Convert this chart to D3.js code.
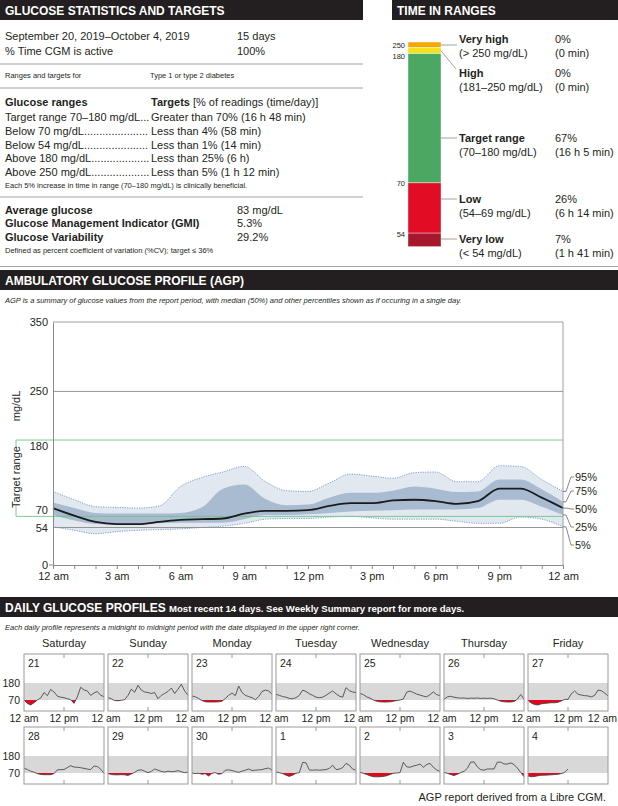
<!DOCTYPE html>
<html>
<head>
<meta charset="utf-8">
<script src="https://d3js.org/d3.v7.min.js"></script>
<style>
body { margin: 0; background: #fff; }
svg text { font-family: "Liberation Sans", Arial, sans-serif; fill: #231f20; }
svg text.w { fill: #fff; }
</style>
</head>
<body>
<svg id="chart" width="618" height="806"></svg>
<script>
// ---- glucose statistics
const periodLabels = ['September 20, 2019–October 4, 2019', '% Time CGM is active']
const periodValues = ['15 days', '100%']
const rangeLabels = ['Target range 70–180 mg/dL', 'Below 70 mg/dL', 'Below 54 mg/dL', 'Above 180 mg/dL', 'Above 250 mg/dL']
const rangeTargets = ['Greater than 70% (16 h 48 min)', 'Less than 4% (58 min)', 'Less than 1% (14 min)', 'Less than 25% (6 h)', 'Less than 5% (1 h 12 min)']
const summaryLabels = ['Average glucose', 'Glucose Management Indicator (GMI)', 'Glucose Variability']
const summaryValues = ['83 mg/dL', '5.3%', '29.2%']

// ---- time in ranges
const tirNames = ['Very high', 'High', 'Target range', 'Low', 'Very low']
const tirRanges = ['(> 250 mg/dL)', '(181–250 mg/dL)', '(70–180 mg/dL)', '(54–69 mg/dL)', '(< 54 mg/dL)']
const tirPercent = [0, 0, 67, 26, 7]
const tirTimes = ['(0 min)', '(0 min)', '(16 h 5 min)', '(6 h 14 min)', '(1 h 41 min)']
const tirBounds = ['250', '180', '70', '54']
const tirColors = ['#f5a900', '#f3e21c', '#4ba862', '#e20c25', '#a6172b']

// ---- AGP percentiles (mg/dL by hour of day)
const agpHours = [0, 1, 2, 3, 4, 5, 6, 7, 8, 9, 10, 11, 12, 13, 14, 15, 16, 17, 18, 19, 20, 21, 22, 23, 24]
const p95 = [106, 94, 84, 83, 82, 85, 113, 126, 134, 142, 120, 107, 106, 118, 131, 128, 125, 133, 134, 120, 120, 143, 142, 123, 106]
const p75 = [90, 82, 75, 74, 74, 74, 75, 83, 110, 116, 95, 86, 87, 97, 104, 104, 107, 113, 110, 105, 106, 123, 123, 109, 91]
const p50 = [82, 71, 62, 59, 59, 62, 65, 66, 67, 74, 78, 78, 79, 85, 89, 89, 93, 94, 92, 88, 92, 110, 110, 97, 82]
const p25 = [72, 64, 59, 58, 58, 60, 61, 61, 61, 66, 72, 72, 73, 75, 77, 78, 79, 80, 80, 80, 82, 94, 94, 84, 72]
const p5 = [55, 50, 45, 48, 50, 51, 52, 54, 56, 60, 66, 67, 67, 69, 70, 68, 66, 66, 66, 63, 60, 60, 69, 66, 55]
const agpTicks = [0, 54, 70, 180, 250, 350]
const hourLabels = ['12 am', '3 am', '6 am', '9 am', '12 pm', '3 pm', '6 pm', '9 pm', '12 am']
const pctLabels = ['95%', '75%', '50%', '25%', '5%']

// ---- daily profiles (mg/dL by hour)
const weekDays = ['Saturday', 'Sunday', 'Monday', 'Tuesday', 'Wednesday', 'Thursday', 'Friday']
const dayNumbers = ['21', '22', '23', '24', '25', '26', '27', '28', '29', '30', '1', '2', '3', '4']
const sep21 = [70, 48, 38, 52, 70, 82, 118, 98, 138, 122, 95, 88, 85, 78, 72, 48, 90, 152, 135, 128, 100, 115, 125, 100, 92]
const sep22 = [85, 78, 66, 65, 68, 72, 100, 140, 120, 165, 134, 122, 118, 112, 118, 78, 100, 112, 125, 147, 112, 140, 172, 128, 100]
const sep23 = [96, 90, 80, 66, 58, 57, 57, 57, 58, 62, 80, 100, 115, 98, 160, 118, 100, 92, 85, 72, 92, 125, 134, 128, 108]
const sep24 = [107, 100, 92, 88, 80, 78, 85, 100, 134, 125, 110, 100, 88, 85, 88, 100, 115, 128, 110, 95, 88, 150, 130, 122, 118]
const sep25 = [112, 105, 90, 82, 70, 62, 58, 57, 57, 58, 62, 66, 70, 76, 120, 128, 118, 108, 102, 95, 90, 105, 122, 105, 98]
const sep26 = [74, 90, 94, 88, 84, 82, 83, 80, 82, 81, 83, 80, 82, 80, 82, 78, 70, 62, 58, 57, 57, 60, 75, 105, 75]
const sep27 = [66, 50, 40, 38, 45, 48, 50, 52, 52, 55, 64, 74, 74, 110, 128, 107, 102, 98, 96, 90, 100, 134, 130, 115, 96]
const sep28 = [102, 92, 82, 75, 66, 60, 59, 59, 59, 66, 90, 92, 92, 105, 117, 108, 107, 104, 100, 95, 92, 115, 112, 95, 68]
const sep29 = [66, 60, 58, 58, 59, 58, 54, 64, 74, 88, 90, 82, 72, 80, 96, 88, 80, 76, 82, 78, 80, 85, 78, 72, 75]
const sep30 = [70, 66, 68, 62, 65, 50, 68, 72, 62, 66, 88, 90, 86, 80, 74, 82, 88, 96, 86, 88, 90, 92, 98, 102, 88]
const oct01 = [76, 72, 66, 56, 48, 56, 68, 72, 139, 135, 90, 88, 90, 88, 90, 92, 100, 120, 92, 95, 105, 132, 120, 95, 88]
const oct02 = [74, 68, 60, 52, 46, 45, 46, 48, 52, 60, 68, 70, 72, 139, 110, 107, 115, 120, 128, 107, 125, 132, 107, 90, 80]
const oct03 = [74, 68, 60, 53, 62, 72, 81, 100, 140, 142, 110, 92, 88, 96, 96, 96, 140, 140, 128, 128, 135, 125, 102, 74, 46]
const oct04 = [50, 46, 48, 52, 55, 56, 57, 58, 60, 62, 66, 74, 96]
const dailyValues = [sep21, sep22, sep23, sep24, sep25, sep26, sep27, sep28, sep29, sep30, oct01, oct02, oct03, oct04]

const dark = '#231f20'
const svg = d3.select('#chart')

// section headers
function header(x, y, w, title) {
  svg.append('rect').attr('x', x).attr('y', y).attr('width', w).attr('height', 20).attr('fill', dark)
  return svg.append('text').attr('class', 'w').attr('x', x + 5).attr('y', y + 15)
    .attr('font-size', 12).attr('font-weight', 'bold').text(title)
}
function rule(x1, x2, y) {
  svg.append('line').attr('x1', x1).attr('x2', x2).attr('y1', y).attr('y2', y).attr('stroke', '#8a8a8a').attr('stroke-width', 0.8)
}

// ===== GLUCOSE STATISTICS AND TARGETS
header(0, 0, 363, 'GLUCOSE STATISTICS AND TARGETS')
const stats = svg.append('g').attr('font-size', 11)
periodLabels.forEach((t, i) => {
  stats.append('text').attr('x', 5).attr('y', 40 + i * 15).text(t)
  stats.append('text').attr('x', 237).attr('y', 40 + i * 15).text(periodValues[i])
})
rule(0, 363, 64)
stats.append('text').attr('x', 5).attr('y', 78).attr('font-size', 7.5).text('Ranges and targets for')
stats.append('text').attr('x', 150).attr('y', 78).attr('font-size', 7.5).text('Type 1 or type 2 diabetes')
rule(0, 363, 88)
stats.append('text').attr('x', 5).attr('y', 106).attr('font-weight', 'bold').text('Glucose ranges')
const tg = stats.append('text').attr('x', 151).attr('y', 106)
tg.append('tspan').attr('font-weight', 'bold').text('Targets')
tg.append('tspan').text(' [% of readings (time/day)]')
rangeLabels.forEach((lab, i) => {
  const y = 121 + i * 13.8
  const t = stats.append('text').attr('x', 5).attr('y', y)
  let s = lab + '...'
  t.text(s)
  while (t.node().getComputedTextLength() < 143) { s += '.'; t.text(s) }
  stats.append('text').attr('x', 151).attr('y', y).text(rangeTargets[i])
})
stats.append('text').attr('x', 5).attr('y', 188).attr('font-size', 7.5)
  .text('Each 5% increase in time in range (70–180 mg/dL) is clinically beneficial.')
rule(0, 363, 197)
summaryLabels.forEach((lab, i) => {
  const y = 214 + i * 13.3
  stats.append('text').attr('x', 5).attr('y', y).attr('font-weight', 'bold').text(lab)
  stats.append('text').attr('x', 237).attr('y', y).text(summaryValues[i])
})
stats.append('text').attr('x', 5).attr('y', 253).attr('font-size', 7.5)
  .text('Defined as percent coefficient of variation (%CV); target ≤ 36%')

// ===== TIME IN RANGES
header(392, 0, 226, 'TIME IN RANGES')
const barX = 408, barW = 33, barTop = 42
const hScale = d3.scaleLinear().domain([0, 100]).range([0, 193])
let acc = barTop
const segs = tirPercent.map((p, i) => {
  const h = Math.max(5.8, hScale(p))
  const s = { y: acc, h: h, color: tirColors[i] }
  acc += h
  return s
})
svg.append('g').selectAll('rect').data(segs).enter().append('rect')
  .attr('x', barX).attr('y', d => d.y).attr('width', barW).attr('height', d => d.h)
  .attr('fill', d => d.color).attr('stroke', '#fff').attr('stroke-width', 0.4)
const boundOffset = [-2, 3, 1, 1]
tirBounds.forEach((b, i) => {
  svg.append('text').attr('x', 405).attr('y', segs[i + 1].y + boundOffset[i] + 2.5)
    .attr('text-anchor', 'end').attr('font-size', 7.5).attr('fill', '#444').text(b)
})
const tirLabelY = [39, 73, 138, 199, 239]
const tirLines = svg.append('g').attr('stroke', '#8a8a8a').attr('stroke-width', 0.8).attr('fill', 'none')
tirLines.append('path').attr('d', `M${barX + barW},${segs[0].y + 3}H457`)
tirLines.append('path').attr('d', `M${barX + barW},${segs[1].y + 3}L456,${tirLabelY[1] - 4}`)
;[2, 3, 4].forEach(i => tirLines.append('path').attr('d', `M${barX + barW},${tirLabelY[i]}H457`))
tirNames.forEach((n, i) => {
  const g = svg.append('g').attr('font-size', 11)
  g.append('text').attr('x', 459).attr('y', tirLabelY[i] + 4).attr('font-weight', 'bold').text(n)
  g.append('text').attr('x', 459).attr('y', tirLabelY[i] + 18).text(tirRanges[i])
  g.append('text').attr('x', 555).attr('y', tirLabelY[i] + 4).text(tirPercent[i] + '%')
  g.append('text').attr('x', 555).attr('y', tirLabelY[i] + 18).text(tirTimes[i])
})
rule(0, 618, 266.5)

// ===== AGP
header(0, 270, 618, 'AMBULATORY GLUCOSE PROFILE (AGP)')
svg.append('text').attr('x', 5).attr('y', 303).attr('font-size', 7.5).attr('font-style', 'italic')
  .text('AGP is a summary of glucose values from the report period, with median (50%) and other percentiles shown as if occuring in a single day.')

const x = d3.scaleLinear().domain([0, 24]).range([53, 563])
const y = d3.scaleLinear().domain([0, 350]).range([565, 322])
const rows = agpHours.map((h, i) => ({ h, p5: p5[i], p25: p25[i], p50: p50[i], p75: p75[i], p95: p95[i] }))
const curve = d3.curveMonotoneX
const agp = svg.append('g')

agp.append('path').datum(rows).attr('fill', '#e2e8f0')
  .attr('d', d3.area().curve(curve).x(d => x(d.h)).y0(d => y(d.p5)).y1(d => y(d.p95)))
agp.append('path').datum(rows).attr('fill', '#a9bbd1')
  .attr('d', d3.area().curve(curve).x(d => x(d.h)).y0(d => y(d.p25)).y1(d => y(d.p75)))
;['p5', 'p95'].forEach(k => {
  agp.append('path').datum(rows).attr('fill', 'none').attr('stroke', '#6a8cc2').attr('stroke-width', 0.8)
    .attr('stroke-dasharray', '1.2,1.2')
    .attr('d', d3.line().curve(curve).x(d => x(d.h)).y(d => y(d[k])))
})
// reference lines
;[250, 54].forEach(v => agp.append('line').attr('x1', x(0)).attr('x2', x(24)).attr('y1', y(v)).attr('y2', y(v))
  .attr('stroke', '#8a8a8a').attr('stroke-width', 0.9))
;[180, 70].forEach(v => agp.append('line').attr('x1', 16).attr('x2', x(24)).attr('y1', y(v)).attr('y2', y(v))
  .attr('stroke', '#6cc486').attr('stroke-width', 0.9))
agp.append('line').attr('x1', 16).attr('x2', 16).attr('y1', y(180)).attr('y2', y(70)).attr('stroke', '#6cc486').attr('stroke-width', 0.9)
agp.append('rect').attr('x', 9).attr('y', 447).attr('width', 14).attr('height', 58).attr('fill', '#fff')
agp.append('text').attr('transform', 'translate(20,477) rotate(-90)').attr('text-anchor', 'middle')
  .attr('font-size', 11).text('Target range')
agp.append('text').attr('transform', 'translate(20,406) rotate(-90)').attr('text-anchor', 'middle')
  .attr('font-size', 11).text('mg/dL')

agp.append('path').datum(rows).attr('fill', 'none').attr('stroke', '#1b1b1b').attr('stroke-width', 1.8)
  .attr('d', d3.line().curve(curve).x(d => x(d.h)).y(d => y(d.p50)))

// frame
agp.append('path').attr('d', `M${x(0)},${y(350)}H${x(24)}V${y(0)}`).attr('fill', 'none')
  .attr('stroke', '#a0a0a0').attr('stroke-width', 1)

const xAxis = d3.axisBottom(x).tickValues(agpHours).tickSize(4).tickPadding(3)
  .tickFormat(h => h % 3 === 0 ? hourLabels[h / 3] : '')
const gx = agp.append('g').attr('transform', `translate(0,${y(0)})`).call(xAxis)
gx.selectAll('text').attr('font-size', 11).attr('font-family', null)
gx.selectAll('line,path').attr('stroke', '#8a8a8a')

const yLabelShift = { 0: 0, 54: 0, 70: -6, 180: 6, 250: 0, 350: 0 }
const yAxis = d3.axisLeft(y).tickValues(agpTicks).tickSize(0).tickPadding(5)
const gy = agp.append('g').attr('transform', `translate(${x(0)},0)`).call(yAxis)
gy.selectAll('text').attr('font-size', 11).attr('font-family', null).attr('dy', d => (yLabelShift[d] + 3.5) + 'px')
gy.select('.domain').attr('stroke', '#8a8a8a')
gy.append('line').attr('x1', -4).attr('x2', 0).attr('y1', y(0)).attr('y2', y(0)).attr('stroke', '#8a8a8a')

// percentile labels on the right
const pctKeys = ['p95', 'p75', 'p50', 'p25', 'p5']
const pctLabelY = [477, 491, 509, 527, 545]
const last = rows[rows.length - 1]
pctKeys.forEach((k, i) => {
  const yv = y(last[k]), xe = x(24)
  agp.append('path').attr('fill', 'none').attr('stroke', '#555').attr('stroke-width', 0.7)
    .attr('d', `M${xe},${yv}H${xe + 3}L${xe + 8},${pctLabelY[i]}H${xe + 11}`)
  agp.append('text').attr('x', xe + 12).attr('y', pctLabelY[i] + 4).attr('font-size', 11).text(pctLabels[i])
})

// ===== DAILY GLUCOSE PROFILES
header(0, 597, 618, 'DAILY GLUCOSE PROFILES')
svg.append('text').attr('class', 'w').attr('x', 169).attr('y', 612).attr('font-size', 9.6).attr('font-weight', 'bold')
  .text('Most recent 14 days. See Weekly Summary report for more days.')
svg.append('text').attr('x', 5).attr('y', 630).attr('font-size', 7.5).attr('font-style', 'italic')
  .text('Each daily profile represents a midnight to midnight period with the date displayed in the upper right corner.')

const panelW = 80, panelH = 57, colStep = 84, rowStep = 73, left0 = 24, top0 = 654
weekDays.forEach((d, c) => {
  svg.append('text').attr('x', left0 + c * colStep + panelW / 2).attr('y', 647).attr('text-anchor', 'middle')
    .attr('font-size', 11).text(d)
})
const defs = svg.append('defs')
dailyValues.forEach((vals, i) => {
  const col = i % 7, row = Math.floor(i / 7)
  const x0 = left0 + col * colStep, y0 = top0 + row * rowStep
  const dx = d3.scaleLinear().domain([0, 24]).range([x0, x0 + panelW])
  const dy = d3.scaleLinear().domain([0, 350]).range([y0 + 56.8, y0 + 2.7])
  const g = svg.append('g')
  g.append('rect').attr('x', x0).attr('y', dy(180)).attr('width', panelW).attr('height', dy(70) - dy(180)).attr('fill', '#d8d8d8')
  const pts = vals.map((v, h) => [h, v])
  defs.append('clipPath').attr('id', 'low' + i).append('rect')
    .attr('x', x0).attr('y', dy(70)).attr('width', panelW).attr('height', y0 + panelH - dy(70))
  g.append('path').datum(pts).attr('clip-path', `url(#low${i})`).attr('fill', '#e3061f')
    .attr('d', d3.area().x(d => dx(d[0])).y0(dy(70)).y1(d => dy(d[1])))
  g.append('path').datum(pts).attr('fill', 'none').attr('stroke', '#3a3a3a').attr('stroke-width', 0.8)
    .attr('d', d3.line().x(d => dx(d[0])).y(d => dy(d[1])))
  g.append('rect').attr('x', x0).attr('y', y0).attr('width', panelW).attr('height', panelH)
    .attr('fill', 'none').attr('stroke', '#9a9a9a').attr('stroke-width', 1)
  g.append('line').attr('x1', dx(12)).attr('x2', dx(12)).attr('y1', y0).attr('y2', y0 + 4).attr('stroke', '#9a9a9a')
  g.append('line').attr('x1', dx(12)).attr('x2', dx(12)).attr('y1', y0 + panelH - 4).attr('y2', y0 + panelH).attr('stroke', '#9a9a9a')
  g.append('text').attr('x', x0 + 4).attr('y', y0 + 13).attr('font-size', 10.5).text(dayNumbers[i])
  if (col === 0) {
    ;[180, 70].forEach(v => svg.append('text').attr('x', 20).attr('y', dy(v) + 4).attr('text-anchor', 'end')
      .attr('font-size', 10.5).text(v))
  }
  if (row === 0) {
    const lab = svg.append('g').attr('font-size', 10.5).attr('text-anchor', 'middle')
    if (col === 0) lab.append('text').attr('x', x0).attr('y', y0 + panelH + 11).text('12 am')
    lab.append('text').attr('x', dx(12)).attr('y', y0 + panelH + 11).text('12 pm')
    if (col < 6) lab.append('text').attr('x', x0 + panelW + 2).attr('y', y0 + panelH + 11).text('12 am')
    else lab.append('text').attr('x', 617).attr('y', y0 + panelH + 11).attr('text-anchor', 'end').text('12 am')
  }
})

svg.append('text').attr('x', 606).attr('y', 801).attr('text-anchor', 'end').attr('font-size', 11)
  .text('AGP report derived from a Libre CGM.')
</script>
</body>
</html>
